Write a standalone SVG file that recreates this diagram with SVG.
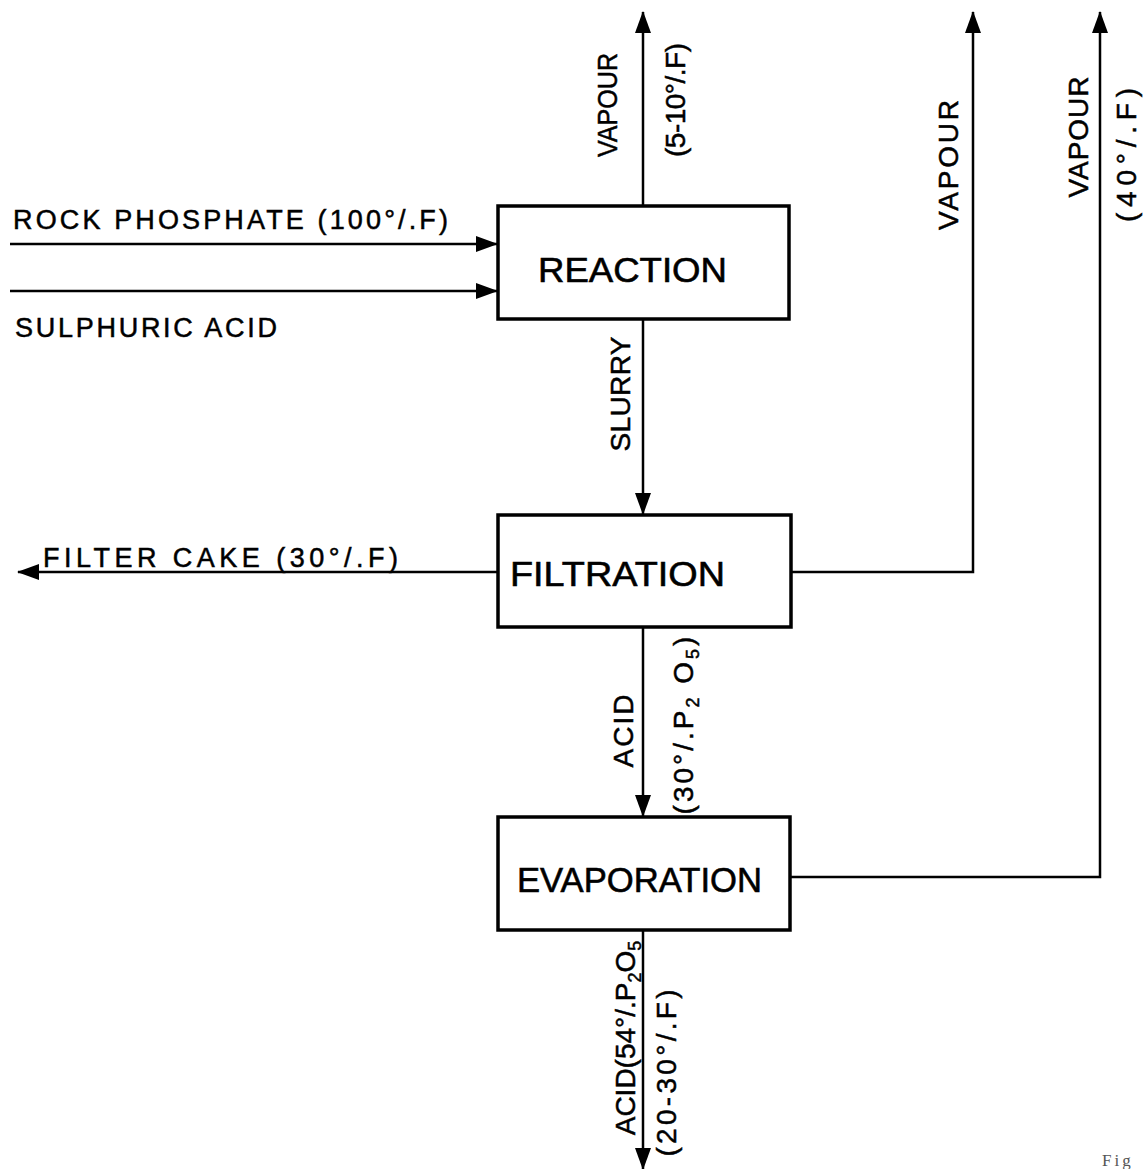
<svg xmlns="http://www.w3.org/2000/svg" width="1143" height="1169" viewBox="0 0 1143 1169">
<style>
.box{fill:#fff;stroke:#000;stroke-width:3.5}
.ln{fill:none;stroke:#000;stroke-width:2.5}
.lbl{font-family:"Liberation Sans","DejaVu Sans",sans-serif;font-size:27px;fill:#000;stroke:#000;stroke-width:0.5}
.rl{font-family:"Liberation Sans","DejaVu Sans",sans-serif;font-size:28px;fill:#000;text-anchor:middle;stroke:#000;stroke-width:0.5}
.ttl{font-family:"Liberation Sans","DejaVu Sans",sans-serif;font-size:35px;fill:#000;stroke:#000;stroke-width:0.6}
.sub{font-size:18px}
</style>
<defs>
<marker id="ah" viewBox="0 0 22 16" refX="21" refY="8" markerWidth="22" markerHeight="16" markerUnits="userSpaceOnUse" orient="auto">
<path d="M0,0 L22,8 L0,16 Z" fill="#000"/>
</marker>
</defs>
<rect width="1143" height="1169" fill="#fff"/>
<g id="connectors">
<line class="ln" x1="643" y1="206" x2="643" y2="12" marker-end="url(#ah)"/>
<line class="ln" x1="10" y1="244" x2="497" y2="244" marker-end="url(#ah)"/>
<line class="ln" x1="10" y1="291" x2="497" y2="291" marker-end="url(#ah)"/>
<line class="ln" x1="643" y1="319" x2="643" y2="514" marker-end="url(#ah)"/>
<line class="ln" x1="498" y1="572" x2="18" y2="572" marker-end="url(#ah)"/>
<polyline class="ln" points="791,572 973,572 973,12" marker-end="url(#ah)"/>
<line class="ln" x1="643" y1="627" x2="643" y2="816" marker-end="url(#ah)"/>
<polyline class="ln" points="790,877 1100,877 1100,12" marker-end="url(#ah)"/>
<line class="ln" x1="643" y1="930" x2="643" y2="1169" marker-end="url(#ah)"/>
</g>
<g id="labels">
<text class="lbl" x="13" y="229" textLength="435" lengthAdjust="spacing">ROCK  PHOSPHATE  (100°/.F)</text>
<text class="lbl" x="15" y="337" textLength="262" lengthAdjust="spacing">SULPHURIC  ACID</text>
<text class="lbl" x="43" y="567" textLength="355" lengthAdjust="spacing">FILTER  CAKE  (30°/.F)</text>
<text class="rl" transform="translate(617,105) rotate(-90)" textLength="104" lengthAdjust="spacingAndGlyphs">VAPOUR</text>
<text class="rl" transform="translate(685,100) rotate(-90)" textLength="114" lengthAdjust="spacing">(5-10°/.F)</text>
<text class="rl" transform="translate(630,394) rotate(-90)" textLength="115" lengthAdjust="spacing">SLURRY</text>
<text class="rl" transform="translate(958,165) rotate(-90)" textLength="130" lengthAdjust="spacing">VAPOUR</text>
<text class="rl" transform="translate(1088,137) rotate(-90)" textLength="121" lengthAdjust="spacing">VAPOUR</text>
<text class="rl" transform="translate(1136,155) rotate(-90)" textLength="134" lengthAdjust="spacing">(40°/.F)</text>
<text class="rl" transform="translate(633,731) rotate(-90)" textLength="73" lengthAdjust="spacing">ACID</text>
<text class="rl" transform="translate(693,724) rotate(-90)" letter-spacing="3">(30°/.P<tspan class="sub" dy="6">2</tspan><tspan dy="-6"> O</tspan><tspan class="sub" dy="6">5</tspan><tspan dy="-6">)</tspan></text>
<text class="rl" transform="translate(635,1038) rotate(-90)">ACID(54°/.P<tspan class="sub" dy="6">2</tspan><tspan dy="-6">O</tspan><tspan class="sub" dy="6">5</tspan></text>
<text class="rl" transform="translate(676,1073) rotate(-90)" textLength="167" lengthAdjust="spacing">(20-30°/.F)</text>
<text x="1102" y="1166" font-family="Liberation Serif, serif" font-size="17" fill="#555" letter-spacing="3">Fig</text>
</g>
<g id="reaction">
<rect class="box" x="498" y="206" width="291" height="113"/>
<text class="ttl" x="538" y="282" textLength="189" lengthAdjust="spacingAndGlyphs">REACTION</text>
</g>
<g id="filtration">
<rect class="box" x="498" y="515" width="293" height="112"/>
<text class="ttl" x="510" y="586" textLength="215" lengthAdjust="spacingAndGlyphs">FILTRATION</text>
</g>
<g id="evaporation">
<rect class="box" x="498" y="817" width="292" height="113"/>
<text class="ttl" x="517" y="892" textLength="245" lengthAdjust="spacingAndGlyphs">EVAPORATION</text>
</g>
</svg>
